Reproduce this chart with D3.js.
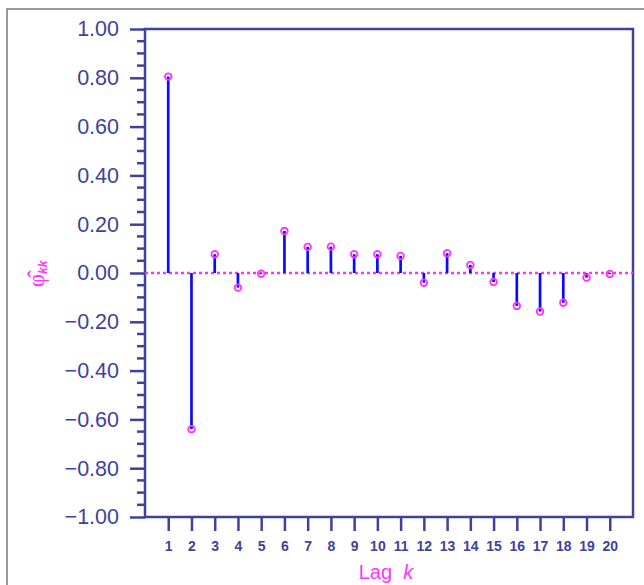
<!DOCTYPE html>
<html><head><meta charset="utf-8">
<script src="https://cdn.jsdelivr.net/npm/d3@7"></script>
<style>body{margin:0;background:#fff;} svg{display:block;}</style>
</head><body>
<script>
const lags = [1,2,3,4,5,6,7,8,9,10,11,12,13,14,15,16,17,18,19,20];
const pacf = [0.805,-0.64,0.077,-0.06,-0.003,0.172,0.107,0.108,0.077,0.077,0.07,-0.04,0.081,0.033,-0.037,-0.135,-0.158,-0.122,-0.019,-0.004];
const yTicks = [1.0,0.8,0.6,0.4,0.2,0.0,-0.2,-0.4,-0.6,-0.8,-1.0];
const xTickLabels = lags.map(String);
const xLabel = "Lag";
const xLabelVar = "k";

const W = 644, H = 585;
const axisCol = "#41419c", mag = "#ff33ff", stemCol = "#0a0aff";
const svg = d3.select("body").append("svg").attr("width", W).attr("height", H);

// outer border
svg.append("rect").attr("x",7).attr("y",9).attr("width",700).attr("height",700)
  .attr("fill","none").attr("stroke","#7a7a7a").attr("stroke-width",1.5);

const x = d3.scaleLinear().domain([0,21]).range([145,633]);
const y = d3.scaleLinear().domain([-1,1]).range([517,29]);

// frame
svg.append("rect").attr("x",x(0)).attr("y",y(1)).attr("width",x(21)-x(0)).attr("height",y(-1)-y(1))
  .attr("fill","none").attr("stroke",axisCol).attr("stroke-width",2.5);

// y axis major
const yAx = d3.axisLeft(y).tickValues(yTicks).tickSize(15).tickPadding(11)
  .tickFormat(d => (d < 0 ? "\u2212" : "") + Math.abs(d).toFixed(2));
const ya = svg.append("g").attr("transform",`translate(${x(0)},0)`).call(yAx);
ya.select(".domain").remove();
ya.selectAll("line").attr("stroke",axisCol).attr("stroke-width",2.5);
ya.selectAll("text").attr("fill",axisCol).attr("font-family","Liberation Sans, Arial, sans-serif")
  .attr("font-size",21.5);
// minor ticks
const minor = d3.range(-1,1.0001,0.05).filter(v => Math.abs(Math.round(v*5)-v*5) > 1e-6);
svg.append("g").selectAll("line").data(minor).join("line")
  .attr("x1",x(0)-8).attr("x2",x(0)).attr("y1",d=>y(d)).attr("y2",d=>y(d))
  .attr("stroke",axisCol).attr("stroke-width",2.5);

// x axis
const xAx = d3.axisBottom(x).tickValues(lags).tickSize(14).tickPadding(10)
  .tickFormat((d,i)=>xTickLabels[i]);
const xa = svg.append("g").attr("transform",`translate(0,${y(-1)})`).call(xAx);
xa.select(".domain").remove();
xa.selectAll("line").attr("stroke",axisCol).attr("stroke-width",2.5);
xa.selectAll("text").attr("fill",axisCol).attr("font-family","Liberation Sans, Arial, sans-serif")
  .attr("font-size",14).attr("font-weight","bold");

// zero line
svg.append("line").attr("x1",x(0)).attr("x2",x(21)).attr("y1",y(0)).attr("y2",y(0))
  .attr("stroke",mag).attr("stroke-width",2.5).attr("stroke-dasharray","3,3");

// stems
svg.append("g").selectAll("line").data(lags).join("line")
  .attr("x1",d=>x(d)).attr("x2",d=>x(d)).attr("y1",y(0)).attr("y2",(d,i)=>y(pacf[i]))
  .attr("stroke",stemCol).attr("stroke-width",2.7);
// points
svg.append("g").selectAll("circle").data(lags).join("circle")
  .attr("cx",d=>x(d)).attr("cy",(d,i)=>y(pacf[i])).attr("r",3.3)
  .attr("fill","none").attr("stroke",mag).attr("stroke-width",1.8);

// x label
const xl = svg.append("text").attr("x",386).attr("y",579).attr("text-anchor","middle")
  .attr("fill",mag).attr("font-family","Liberation Sans, Arial, sans-serif").attr("font-size",20);
xl.append("tspan").text(xLabel + "\u00A0\u00A0");
xl.append("tspan").attr("font-style","italic").text(xLabelVar);

// y label
const yl = svg.append("text").attr("transform","translate(44,274) rotate(-90)").attr("text-anchor","middle")
  .attr("fill",mag).attr("font-family","Liberation Serif, serif").attr("font-size",23);
yl.append("tspan").text("\u03C6\u0302");
yl.append("tspan").attr("font-family","Liberation Sans, sans-serif").attr("font-style","italic").attr("font-weight","bold").attr("font-size",12).attr("dy",3).text("kk");
</script>
</body></html>
